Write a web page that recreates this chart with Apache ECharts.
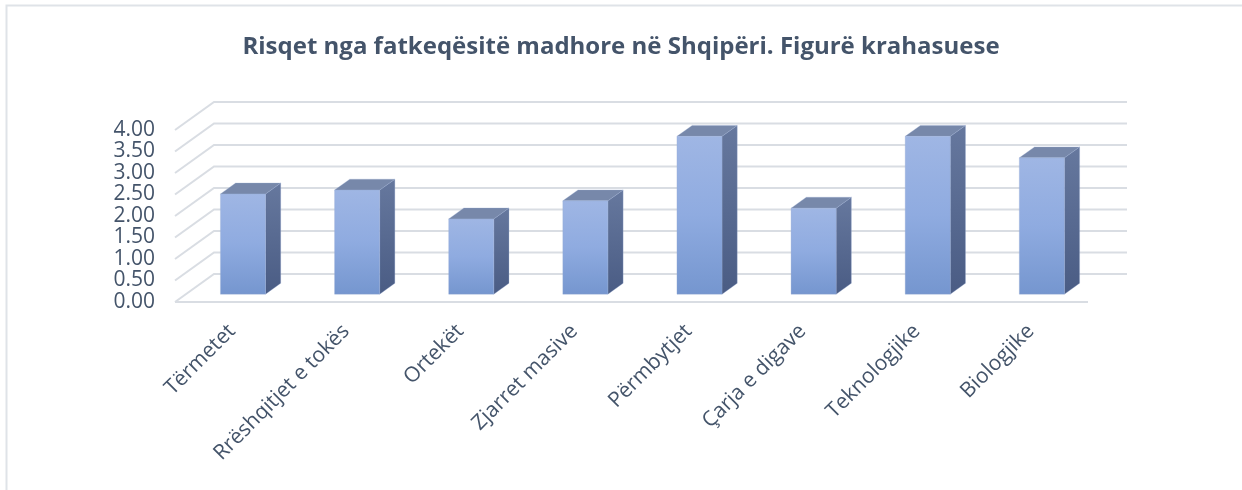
<!DOCTYPE html>
<html>
<head>
<meta charset="utf-8">
<script src="https://cdn.jsdelivr.net/npm/echarts@6/dist/echarts.min.js"></script>
<style>
  html, body { margin: 0; padding: 0; background: #fff; }
  #chart { width: 1242px; height: 490px; }
</style>
</head>
<body>
<div id="chart"></div>
<script>
// data
const categories = ["Tërmetet", "Rrëshqitjet e tokës", "Ortekët", "Zjarret masive",
  "Përmbytjet", "Çarja e digave", "Teknologjike", "Biologjike"];
const values = [2.33, 2.42, 1.75, 2.17, 3.67, 2.0, 3.67, 3.17];
const yTicks = [0, 0.5, 1, 1.5, 2, 2.5, 3, 3.5, 4];

// 3D depth vector (px) and bar placement inside the depth
const DX = 39, DY = -28;
const FRONT = 0.28, BACK = 0.67;
const BAR_RATIO = 0.395;
const textColor = "#44546a";

const chart = echarts.init(document.getElementById("chart"));

function wallItem(params, api) {
  const v = api.value(1);
  const bw = api.size([1, 0])[0];
  const pL = api.coord([0, v]);
  const pR = api.coord([categories.length - 1, v]);
  const xl = pL[0] - bw / 2, xr = pR[0] + bw / 2, y = pL[1];
  const style = { stroke: "#d9dde3", lineWidth: 2, fill: null };
  const children = [{
    type: "polyline",
    shape: { points: [[xl, y], [xl + DX, y + DY], [xr + DX, y + DY]] },
    style: style
  }];
  if (v === 0) {
    children.push({ type: "line", shape: { x1: xl, y1: y, x2: xr, y2: y }, style: style });
  }
  return { type: "group", children: children };
}

function barItem(params, api) {
  const i = api.value(0);
  const v = api.value(1);
  const bw = api.size([1, 0])[0];
  const w = bw * BAR_RATIO;
  const base = api.coord([i, 0]);
  const top = api.coord([i, v]);
  const ox = FRONT * DX, oy = FRONT * DY;
  const sx = (BACK - FRONT) * DX, sy = (BACK - FRONT) * DY;
  const x0 = base[0] - w / 2 + ox, x1 = x0 + w;
  const yb = base[1] + oy, yt = top[1] + oy;
  const edge = "rgba(150,170,210,0.6)";
  return {
    type: "group",
    children: [
      {
        type: "polygon",
        shape: { points: [[x1, yb], [x1 + sx, yb + sy], [x1 + sx, yt + sy], [x1, yt]] },
        style: {
          fill: new echarts.graphic.LinearGradient(0, 0, 0, 1, [
            { offset: 0, color: "#66789e" },
            { offset: 1, color: "#4a5c84" }
          ]),
          stroke: edge, lineWidth: 0.5
        }
      },
      {
        type: "polygon",
        shape: { points: [[x0, yt], [x1, yt], [x1 + sx, yt + sy], [x0 + sx, yt + sy]] },
        style: { fill: "#7788aa", stroke: edge, lineWidth: 0.5 }
      },
      {
        type: "rect",
        shape: { x: x0, y: yt, width: w, height: yb - yt },
        style: {
          fill: new echarts.graphic.LinearGradient(0, 0, 0, 1, [
            { offset: 0, color: "#9fb6e4" },
            { offset: 0.5, color: "#8fabe0" },
            { offset: 1, color: "#7596cf" }
          ]),
          stroke: edge, lineWidth: 0.5
        }
      }
    ]
  };
}

const option = {
  animation: false,
  backgroundColor: "#ffffff",
  title: {
    text: "Risqet nga fatkeqësitë madhore në Shqipëri. Figurë krahasuese",
    left: "center",
    top: 30,
    textStyle: { fontFamily: "Open Sans", fontSize: 24, fontWeight: "bold", color: textColor }
  },
  graphic: [{
    type: "rect",
    shape: { x: 6.5, y: 5.5, width: 1300, height: 600 },
    style: { fill: null, stroke: "#dfe3e8", lineWidth: 2 },
    silent: true
  }],
  grid: { left: 175, right: 154, top: 130, bottom: 188 },
  xAxis: {
    type: "category",
    data: categories,
    axisLine: { show: false },
    axisTick: { show: false },
    axisLabel: {
      rotate: 45, interval: 0, margin: 26,
      fontFamily: "Open Sans", fontSize: 21, color: textColor
    }
  },
  yAxis: {
    type: "value",
    min: 0, max: 4, interval: 0.5,
    splitLine: { show: false },
    axisLine: { show: false },
    axisTick: { show: false },
    axisLabel: {
      margin: 20, fontFamily: "Open Sans", fontSize: 21, lineHeight: 18,
      color: textColor, showMinLabel: true, showMaxLabel: true, hideOverlap: false,
      formatter: v => v.toFixed(2)
    }
  },
  series: [
    {
      type: "custom",
      clip: false,
      z: 1,
      renderItem: wallItem,
      data: yTicks.map(v => [0, v])
    },
    {
      type: "custom",
      clip: false,
      z: 2,
      renderItem: barItem,
      data: values.map((v, i) => [i, v])
    }
  ]
};

chart.setOption(option);
</script>
</body>
</html>
